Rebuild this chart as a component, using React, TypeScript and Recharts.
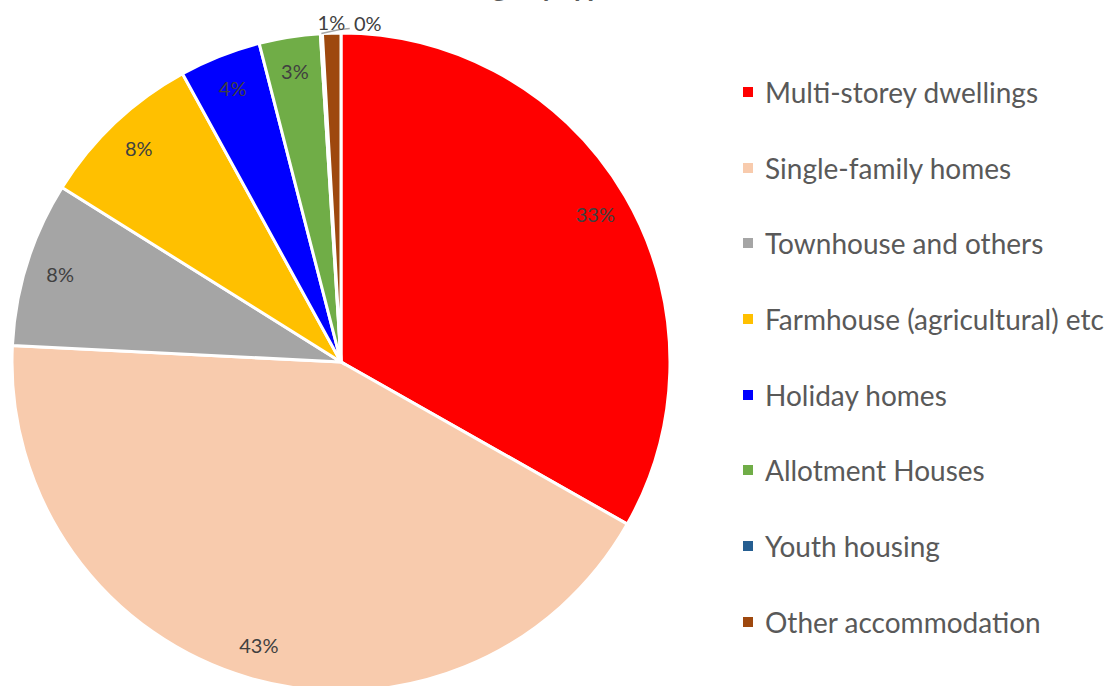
import React from "react";
import { Legend, Pie, PieChart, Cell } from "recharts";

// dwelling types, clockwise from 12 o'clock
const categories = [
  "Multi-storey dwellings",
  "Single-family homes",
  "Townhouse and others",
  "Farmhouse (agricultural) etc",
  "Holiday homes",
  "Allotment Houses",
  "Youth housing",
  "Other accommodation",
];
const shares = [33.2, 42.6, 8.1, 8.1, 4.0, 3.0, 0.1, 0.9];
const colors = ["#ff0000", "#f8cbad", "#a5a5a5", "#ffc000", "#0000ff", "#70ad47", "#255e91", "#9e480e"];

const data = categories.map((name, i) => ({ name, value: shares[i] }));

const RAD = Math.PI / 180;
const FONT = "Lato, 'Open Sans', sans-serif";

type LabelProps = {
  cx?: number;
  cy?: number;
  midAngle?: number;
  outerRadius?: number;
  percent?: number;
  index?: number;
};

function SliceLabel({ cx = 0, cy = 0, midAngle = 0, outerRadius = 0, percent = 0 }: LabelProps) {
  const text = `${Math.round(percent * 100)}%`;
  const cos = Math.cos(-midAngle * RAD);
  const sin = Math.sin(-midAngle * RAD);
  const style = { fontSize: 20, fill: "#404040", fontFamily: FONT };
  // tiny slices get their label outside the pie
  if (percent < 0.02) {
    const r = outerRadius + 11;
    let x = cx + r * cos;
    const y = cy + r * sin;
    if (percent < 0.005) {
      const ox = cx + outerRadius * cos;
      const oy = cy + outerRadius * sin;
      x += 47;
      return (
        <g>
          <polyline
            points={`${ox},${oy} ${x - 28},${y + 7} ${x - 18},${y + 6}`}
            fill="none"
            stroke="#a6a6a6"
            strokeWidth={1.5}
          />
          <text x={x} y={y} textAnchor="middle" dominantBaseline="central" style={style}>
            {text}
          </text>
        </g>
      );
    }
    return (
      <text x={x} y={y} textAnchor="middle" dominantBaseline="central" style={style}>
        {text}
      </text>
    );
  }
  const r = outerRadius * 0.895;
  return (
    <text
      x={cx + r * cos}
      y={cy + r * sin}
      textAnchor="middle"
      dominantBaseline="central"
      style={style}
    >
      {text}
    </text>
  );
}

function LegendList() {
  return (
    <div style={{ fontFamily: FONT }}>
      {categories.map((c, i) => (
        <div
          key={c}
          style={{ height: 75.7, display: "flex", alignItems: "center", whiteSpace: "nowrap" }}
        >
          <span
            style={{ width: 10, height: 10, background: colors[i], display: "inline-block", marginRight: 12 }}
          />
          <span style={{ fontSize: 28, color: "#595959" }}>{c}</span>
        </div>
      ))}
    </div>
  );
}

export default function App() {
  return (
    <div style={{ position: "absolute", left: 0, top: 0, width: 1118, height: 686, overflow: "hidden", background: "#fff" }}>
      <PieChart width={1118} height={686} margin={{ top: 0, right: 0, bottom: 0, left: 0 }}>
        <text
          x={618}
          y={-4}
          textAnchor="end"
          style={{ fontSize: 28, fontWeight: 700, fill: "#595959", fontFamily: FONT }}
        >
          Dwellings by type
        </text>
        <Pie
          data={data}
          dataKey="value"
          nameKey="name"
          cx={341}
          cy={362}
          outerRadius={329}
          startAngle={90}
          endAngle={-270}
          stroke="#ffffff"
          strokeWidth={3}
          label={SliceLabel}
          labelLine={false}
          isAnimationActive={false}
        >
          {data.map((d, i) => (
            <Cell key={d.name} fill={colors[i]} />
          ))}
        </Pie>
        <Legend
          content={() => <LegendList />}
          wrapperStyle={{ position: "absolute", left: 743, top: 54, width: 380 }}
        />
      </PieChart>
    </div>
  );
}
